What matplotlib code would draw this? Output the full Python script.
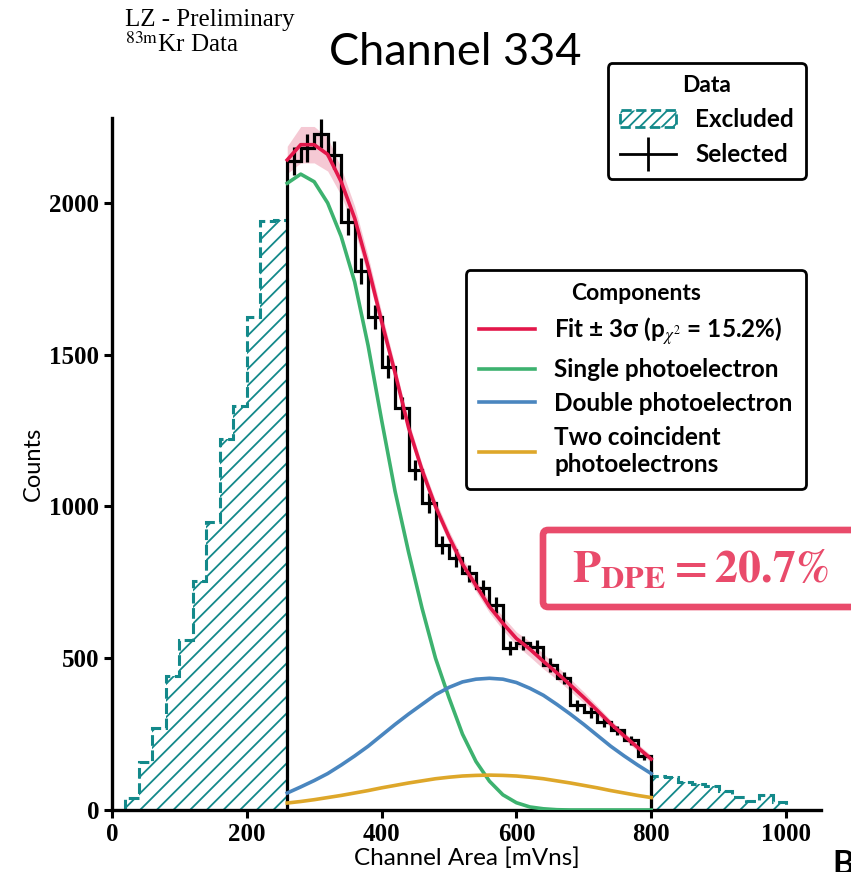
import numpy as np
import matplotlib.pyplot as plt
from matplotlib.patches import Patch, FancyBboxPatch
from matplotlib.lines import Line2D

# --- colours ---
teal = '#13898a'
fit_red = '#e3174a'
band_pink = '#f2b3c2'
spe_green = '#3db26f'
dpe_blue = '#4a86bf'
coinc_gold = '#dea72a'
box_pink = '#e94b6b'

plt.rcParams.update({
    'font.family': ['Lato', 'DejaVu Sans'],
    'mathtext.fontset': 'stix',
    'axes.linewidth': 2.4,
    'hatch.linewidth': 1.3,
})

# --- histogram (20 mVns bins) ---
excl_lo_edges = [20, 40, 60, 80, 100, 120, 140, 160, 180, 200, 220, 240, 260]
excl_lo_counts = [39, 158, 269, 442, 561, 753, 948, 1221, 1331, 1623, 1941, 1945]

sel_edges = [260, 280, 300, 320, 340, 360, 380, 400, 420, 440, 460, 480, 500, 520,
             540, 560, 580, 600, 620, 640, 660, 680, 700, 720, 740, 760, 780, 800]
sel_counts = [2137, 2181, 2228, 2158, 1938, 1775, 1625, 1460, 1324, 1120, 1011, 873, 830, 780,
              731, 675, 533, 549, 538, 478, 435, 345, 322, 290, 262, 230, 178]

excl_hi_edges = [800, 820, 840, 860, 880, 900, 920, 940, 960, 980, 1000]
excl_hi_counts = [113, 108, 91, 86, 80, 64, 44, 31, 50, 25]

# --- fit components, read every 20 mVns ---
fit_x = [260, 280, 300, 320, 340, 360, 380, 400, 420, 440, 460, 480, 500, 520,
         540, 560, 580, 600, 620, 640, 660, 680, 700, 720, 740, 760, 780, 800]
fit_total = [2142, 2192, 2192, 2160, 2070, 1950, 1790, 1610, 1440, 1260, 1120, 1000, 900, 810,
             740, 670, 615, 565, 530, 490, 452, 412, 371, 328, 284, 244, 206, 168]
fit_band = [45, 60, 60, 55, 45, 40, 35, 30, 25, 22, 20, 20, 20, 20,
            20, 20, 22, 22, 25, 25, 22, 20, 18, 15, 12, 12, 12, 12]
spe = [2065, 2095, 2070, 2000, 1890, 1740, 1530, 1285, 1050, 850, 665, 500, 370, 250,
       160, 95, 50, 24, 10, 4, 1, 0, 0, 0, 0, 0, 0, 0]
dpe = [56, 76, 97, 120, 148, 178, 210, 246, 282, 316, 348, 380, 404, 422,
       431, 434, 431, 420, 401, 378, 348, 316, 282, 246, 210, 178, 148, 120]
coinc = [23, 28, 34, 41, 48, 56, 64, 73, 81, 89, 96, 103, 108, 112,
         114, 115, 114, 112, 108, 103, 96, 89, 81, 73, 64, 56, 48, 41]

fig = plt.figure(figsize=(8.51, 8.72), dpi=100)
ax = fig.add_axes([0.1316, 0.0711, 0.8332, 0.7936])

# excluded regions: hatched fill + dashed outline
for edges, counts in [(excl_lo_edges, excl_lo_counts), (excl_hi_edges, excl_hi_counts)]:
    ax.stairs(counts, edges, fill=True, facecolor='none', edgecolor=teal,
              hatch='//', linewidth=0, zorder=1)
    ax.stairs(counts, edges, color=teal, linewidth=2.2, linestyle=(0, (3.5, 1.5)),
              baseline=0, zorder=1.5)

# fit band
tot = np.array(fit_total)
band = np.array(fit_band)
ax.fill_between(fit_x, tot - band, tot + band, color=band_pink, alpha=0.7, lw=0, zorder=2)

# selected data
ax.stairs(sel_counts, sel_edges, color='k', linewidth=2.3, baseline=0, zorder=3)
sel_centers = np.array(sel_edges[:-1]) + 10
ax.errorbar(sel_centers, sel_counts, yerr=np.sqrt(sel_counts), fmt='none',
            ecolor='k', elinewidth=2.3, capsize=0, zorder=3)

# components
ax.plot(fit_x, spe, color=spe_green, lw=2.6, zorder=4)
ax.plot(fit_x, dpe, color=dpe_blue, lw=2.6, zorder=4)
ax.plot(fit_x, coinc, color=coinc_gold, lw=2.6, zorder=4)
ax.plot(fit_x, fit_total, color=fit_red, lw=2.6, zorder=5)

# axes styling
ax.set_xlim(0, 1052)
ax.set_ylim(0, 2280)
ax.set_xticks([0, 200, 400, 600, 800, 1000])
ax.set_yticks([0, 500, 1000, 1500, 2000])
ax.tick_params(direction='out', length=6, width=2.2, labelsize=18, pad=3)
for lbl in ax.get_xticklabels() + ax.get_yticklabels():
    lbl.set_fontfamily('Liberation Serif')
    lbl.set_fontweight('bold')
for spine in ['top', 'right']:
    ax.spines[spine].set_visible(False)

ax.set_xlabel('Channel Area [mVns]', fontsize=17.5, labelpad=1)
ax.set_ylabel('Counts', fontsize=17, labelpad=4)

# legends
data_handles = [
    Patch(facecolor='none', edgecolor=teal, hatch='///', linestyle='--', linewidth=2),
    Line2D([0], [0], color='k', lw=2, marker='|', markersize=24, markeredgewidth=2),
]
leg1 = fig.legend(data_handles, ['Excluded', 'Selected'], title='Data',
                  loc='upper right', bbox_to_anchor=(806 / 851, 1 - 63 / 872),
                  borderaxespad=0,
                  prop={'weight': 'bold', 'size': 17.5},
                  title_fontproperties={'weight': 'bold', 'size': 16.5},
                  handlelength=2.3, handletextpad=0.8, labelspacing=0.5,
                  borderpad=0.5, fancybox=True, framealpha=1, edgecolor='k')
leg1.get_frame().set_linewidth(2)

comp_handles = [Line2D([0], [0], color=c, lw=2.6) for c in [fit_red, spe_green, dpe_blue, coinc_gold]]
comp_labels = ['Fit ± 3σ (p$_{\\chi^2}$ = 15.2%)', 'Single photoelectron',
               'Double photoelectron', 'Two coincident\nphotoelectrons']
leg2 = fig.legend(comp_handles, comp_labels, title='Components',
                  loc='upper right', bbox_to_anchor=(806 / 851, 1 - 270 / 872),
                  borderaxespad=0,
                  prop={'weight': 'bold', 'size': 17.5},
                  title_fontproperties={'weight': 'bold', 'size': 16.5},
                  handlelength=2.3, handletextpad=0.8, labelspacing=0.45,
                  borderpad=0.55, fancybox=True, framealpha=1, edgecolor='k')
leg2.get_frame().set_linewidth(2)

# header texts
fig.text(125 / 851, 1 - 26 / 872, 'LZ - Preliminary', family='Liberation Serif',
         fontsize=18, va='baseline', ha='left')
fig.text(125 / 851, 1 - 52 / 872, r'$^{\mathrm{83m}}$Kr Data', family='Liberation Serif',
         fontsize=18, va='baseline', ha='left')
fig.text(455 / 851, 1 - 65 / 872, 'Channel 334', fontsize=32.5, ha='center', va='baseline')

# P_DPE box
box = FancyBboxPatch((543 / 851, 1 - 607 / 872), 330 / 851, 77 / 872,
                     boxstyle='round,pad=0,rounding_size=0.006', transform=fig.transFigure,
                     facecolor='white', edgecolor=box_pink, linewidth=4.8, zorder=10)
fig.patches.append(box)
fig.text(572 / 851, 1 - 583 / 872, r'$\mathbf{P_{DPE} = 20.7\%}$', color=box_pink,
         fontsize=33, ha='left', va='baseline', zorder=11)

# panel letter (cut off at the corner, as in the source figure)
fig.text(832 / 851, 1 - 850 / 872, 'B', fontsize=24, weight='bold', ha='left', va='top')

fig.savefig('out.png', dpi=100)
